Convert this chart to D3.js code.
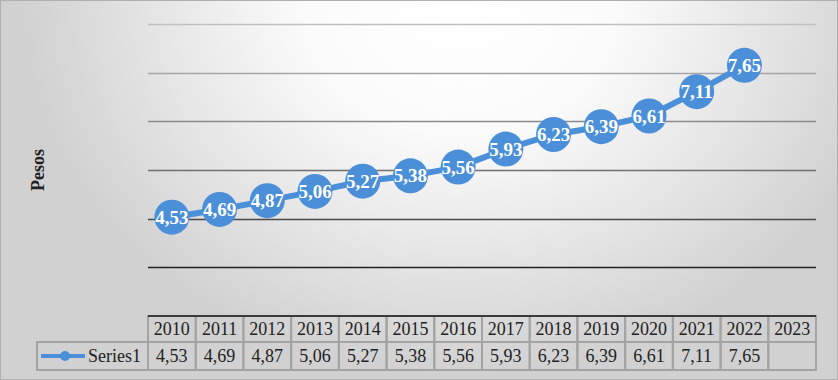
<!DOCTYPE html>
<html>
  <head>
    <meta charset="utf-8">
    <script src="https://d3js.org/d3.v7.min.js"></script>
    <style>
      body { margin: 0; }
      svg { display: block; }
    </style>
  </head>
  <body>
    <svg id="chart" width="838" height="380"></svg>
    <script>
      var years = ["2010", "2011", "2012", "2013", "2014", "2015", "2016", "2017", "2018", "2019", "2020", "2021", "2022", "2023"];
      var values = [4.53, 4.69, 4.87, 5.06, 5.27, 5.38, 5.56, 5.93, 6.23, 6.39, 6.61, 7.11, 7.65, null];
      var gridTicks = [3.5, 4.5, 5.5, 6.5, 7.5, 8.5];
      var seriesName = "Series1";

      var svg = d3.select("#chart"),
          width = +svg.attr("width"),
          height = +svg.attr("height");

      var plotLeft = 148, plotRight = 816, plotTop = 24, plotBottom = 316;
      var blue = "#4a8fd8";
      var fmt = function(v) { return v.toFixed(2).replace(".", ","); };

      // background
      var defs = svg.append("defs");
      var bg = defs.append("radialGradient")
          .attr("id", "bg")
          .attr("gradientUnits", "userSpaceOnUse")
          .attr("cx", 460).attr("cy", 0).attr("r", 440)
          .attr("gradientTransform", "translate(460,0) scale(1,0.85) translate(-460,0)");
      bg.append("stop").attr("offset", "0").attr("stop-color", "#ffffff");
      bg.append("stop").attr("offset", "0.35").attr("stop-color", "#fcfbfc");
      bg.append("stop").attr("offset", "0.65").attr("stop-color", "#e9e8e9");
      bg.append("stop").attr("offset", "1").attr("stop-color", "#d1d1d1");

      svg.append("rect")
          .attr("x", 0).attr("y", 0)
          .attr("width", width).attr("height", height)
          .attr("fill", "url(#bg)");
      svg.append("rect")
          .attr("x", 0.5).attr("y", 0.5)
          .attr("width", width - 1).attr("height", height - 1)
          .attr("fill", "none")
          .attr("stroke", "#b0b0b0");

      var x = d3.scaleBand().domain(years).range([plotLeft, plotRight]);
      var y = d3.scaleLinear().domain([2.5, 8.5]).range([plotBottom, plotTop]);
      var gridColor = d3.scaleLinear().domain([3.5, 5.5, 8.5]).range(["#222222", "#707070", "#c4bec4"]);

      // gridlines
      svg.append("g")
        .selectAll("line")
        .data(gridTicks)
        .enter().append("line")
          .attr("x1", plotLeft).attr("x2", plotRight)
          .attr("y1", function(d) { return Math.round(y(d)) + 0.5; })
          .attr("y2", function(d) { return Math.round(y(d)) + 0.5; })
          .attr("stroke", function(d) { return gridColor(d); })
          .attr("stroke-width", 1.5);

      // y axis title
      svg.append("text")
          .attr("transform", "translate(44,170) rotate(-90)")
          .attr("text-anchor", "middle")
          .attr("font-family", "Liberation Serif")
          .attr("font-weight", "bold")
          .attr("font-size", "18px")
          .attr("fill", "#222")
          .text("Pesos");

      // series
      var pts = years.map(function(d, i) { return {year: d, value: values[i]}; })
          .filter(function(d) { return d.value != null; });

      var line = d3.line()
          .x(function(d) { return x(d.year) + x.bandwidth() / 2; })
          .y(function(d) { return y(d.value); });

      svg.append("path")
          .datum(pts)
          .attr("d", line)
          .attr("fill", "none")
          .attr("stroke", blue)
          .attr("stroke-width", 6)
          .attr("stroke-linejoin", "round");

      var node = svg.selectAll(".pt")
        .data(pts)
        .enter().append("g")
          .attr("class", "pt")
          .attr("transform", function(d) { return "translate(" + (x(d.year) + x.bandwidth() / 2) + "," + y(d.value) + ")"; });

      node.append("circle")
          .attr("r", 17.5)
          .attr("fill", blue);

      node.append("text")
          .attr("text-anchor", "middle")
          .attr("dy", "0.35em")
          .attr("font-family", "Liberation Serif")
          .attr("font-weight", "bold")
          .attr("font-size", "19px")
          .attr("fill", "#fff")
          .text(function(d) { return fmt(d.value); });

      // data table
      var rowTop = 316, rowMid = 342, rowBot = 370, legendLeft = 37;
      var table = svg.append("g");
      var border = "#a3a3a3";

      table.selectAll(".hdr")
        .data(years)
        .enter().append("rect")
          .attr("x", function(d) { return x(d); })
          .attr("y", rowTop)
          .attr("width", x.bandwidth())
          .attr("height", rowMid - rowTop)
          .attr("fill", "none")
          .attr("stroke", border)
          .attr("stroke-width", 2);

      table.selectAll(".val")
        .data(years)
        .enter().append("rect")
          .attr("x", function(d) { return x(d); })
          .attr("y", rowMid)
          .attr("width", x.bandwidth())
          .attr("height", rowBot - rowMid)
          .attr("fill", "none")
          .attr("stroke", border)
          .attr("stroke-width", 2);

      table.append("rect")
          .attr("x", legendLeft).attr("y", rowMid)
          .attr("width", plotLeft - legendLeft).attr("height", rowBot - rowMid)
          .attr("fill", "none")
          .attr("stroke", border)
          .attr("stroke-width", 2);

      table.append("line")
          .attr("x1", plotLeft).attr("x2", plotRight)
          .attr("y1", rowTop).attr("y2", rowTop)
          .attr("stroke", "#3a3a3a")
          .attr("stroke-width", 2);

      table.selectAll(".yr")
        .data(years)
        .enter().append("text")
          .attr("x", function(d) { return x(d) + x.bandwidth() / 2; })
          .attr("y", (rowTop + rowMid) / 2)
          .attr("dy", "0.35em")
          .attr("text-anchor", "middle")
          .attr("font-family", "Liberation Serif")
          .attr("font-size", "18px")
          .attr("fill", "#222")
          .text(function(d) { return d; });

      table.selectAll(".vl")
        .data(pts)
        .enter().append("text")
          .attr("x", function(d) { return x(d.year) + x.bandwidth() / 2; })
          .attr("y", (rowMid + rowBot) / 2)
          .attr("dy", "0.35em")
          .attr("text-anchor", "middle")
          .attr("font-family", "Liberation Serif")
          .attr("font-size", "18px")
          .attr("fill", "#222")
          .text(function(d) { return fmt(d.value); });

      // legend key
      var ly = (rowMid + rowBot) / 2;
      table.append("line")
          .attr("x1", 41).attr("x2", 85)
          .attr("y1", ly).attr("y2", ly)
          .attr("stroke", blue)
          .attr("stroke-width", 4);
      table.append("circle")
          .attr("cx", 65).attr("cy", ly)
          .attr("r", 5)
          .attr("fill", blue);
      table.append("text")
          .attr("x", 88)
          .attr("y", ly)
          .attr("dy", "0.35em")
          .attr("font-family", "Liberation Serif")
          .attr("font-size", "18px")
          .attr("fill", "#222")
          .text(seriesName);
    </script>
  </body>
</html>
